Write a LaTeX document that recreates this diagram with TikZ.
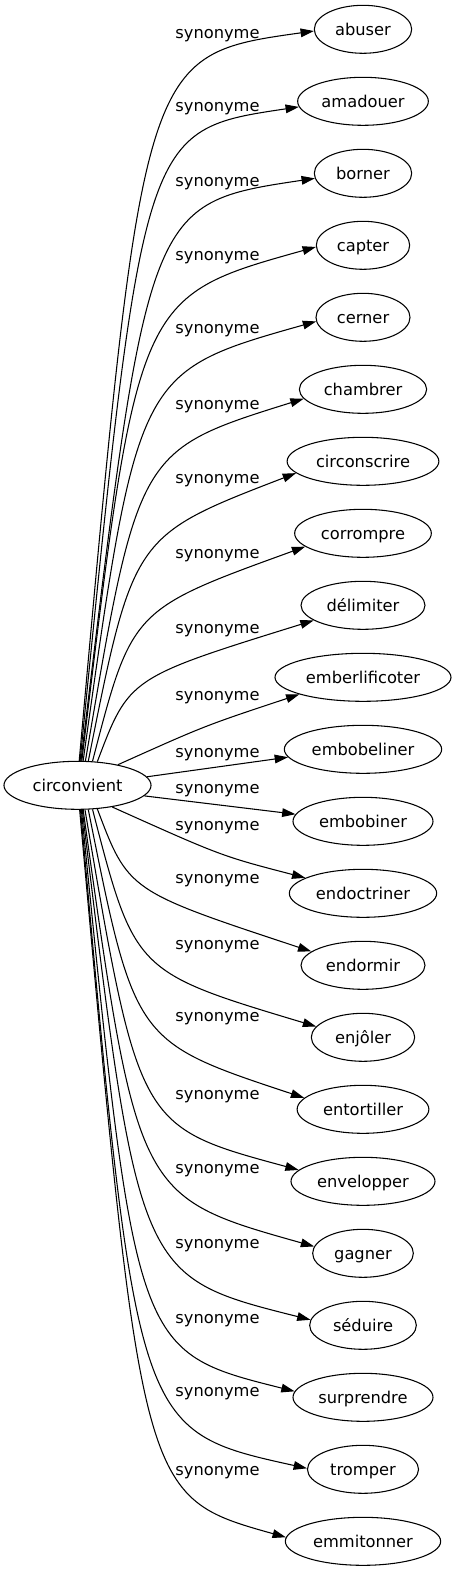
\documentclass[tikz,border=0pt]{standalone}
\usepackage{fontspec}
\setmainfont{DejaVu Sans}
\usetikzlibrary{arrows.meta,shapes.geometric}

\begin{document}
\begin{tikzpicture}[x=0.75pt,y=-0.75pt,
    word/.style={draw, ellipse, line width=0.8pt, minimum height=36pt, inner sep=0pt,
      font=\fontsize{12.2pt}{14pt}\selectfont, text height=11pt, text depth=2.4pt},
    lbl/.style={anchor=base, inner sep=0pt, font=\fontsize{12.2pt}{14pt}\selectfont},
    syn/.style={-{Triangle[length=10pt,width=6.5pt]}, line width=0.8pt}]
    \useasboundingbox (0,0) rectangle (456,1571);

    % Source word
    \node[word, minimum width=110.3pt] (circ) at (77.5,785.3) {circonvient};

    % Synonyms
    \node[word, minimum width=73pt] (abuser) at (363,29.3) {abuser};
    \node[word, minimum width=98pt] (amadouer) at (363,101.3) {amadouer};
    \node[word, minimum width=73pt] (borner) at (363,173.3) {borner};
    \node[word, minimum width=70pt] (capter) at (363,245.3) {capter};
    \node[word, minimum width=70.5pt] (cerner) at (363,317.3) {cerner};
    \node[word, minimum width=95.5pt] (chambrer) at (363,389.3) {chambrer};
    \node[word, minimum width=113.8pt] (circonscrire) at (363,461.3) {circonscrire};
    \node[word, minimum width=102.5pt] (corrompre) at (363,533.3) {corrompre};
    \node[word, minimum width=93pt] (delimiter) at (363,605.3) {délimiter};
    \node[word, minimum width=132pt] (emberlificoter) at (363,677.3) {emberlificoter};
    \node[word, minimum width=118pt] (embobeliner) at (363,749.3) {embobeliner};
    \node[word, minimum width=105pt] (embobiner) at (363,821.3) {embobiner};
    \node[word, minimum width=110.5pt] (endoctriner) at (363,893.3) {endoctriner};
    \node[word, minimum width=93pt] (endormir) at (363,965.3) {endormir};
    \node[word, minimum width=77.5pt] (enjoler) at (363,1037.3) {enjôler};
    \node[word, minimum width=98.8pt] (entortiller) at (363,1109.3) {entortiller};
    \node[word, minimum width=108pt] (envelopper) at (363,1181.3) {envelopper};
    \node[word, minimum width=75.5pt] (gagner) at (363,1253.3) {gagner};
    \node[word, minimum width=80pt] (seduire) at (363,1325.3) {séduire};
    \node[word, minimum width=105pt] (surprendre) at (363,1397.3) {surprendre};
    \node[word, minimum width=83.3pt] (tromper) at (363,1469.3) {tromper};
    \node[word, minimum width=116.5pt] (emmitonner) at (363,1541.3) {emmitonner};

    % Edges
    \draw[syn] (circ.86) .. controls (142.7,55) .. (abuser.182);
    \draw[syn] (circ.84) .. controls (142.9,130) .. (amadouer.185);
    \draw[syn] (circ.82) .. controls (147.9,203.3) .. (borner.186);
    \draw[syn] (circ.80) .. controls (137.5,296.7) .. (capter.182);
    \draw[syn] (circ.77) .. controls (137.6,371.8) .. (cerner.185);
    \draw[syn] (circ.72) .. controls (138.1,450.4) .. (chambrer.189);
    \draw[syn] (circ.66) .. controls (133.2,535.8) .. (circonscrire.190);
    \draw[syn] (circ.58) .. controls (131.8,609.4) .. (corrompre.193);
    \draw[syn] (circ.50) .. controls (129,677.7) .. (delimiter.197);
    \draw[syn] (circ.27) .. controls (205,725.6) .. (emberlificoter.195);
    \draw[syn] (circ.7) -- (embobeliner.186);
    \draw[syn] (circ.351) -- (embobiner.174);
    \draw[syn] (circ.328) .. controls (221.6,856.1) .. (endoctriner.165);
    \draw[syn] (circ.310) .. controls (128.3,891) .. (endormir.165);
    \draw[syn] (circ.302) .. controls (134.6,972) .. (enjoler.167);
    \draw[syn] (circ.294) .. controls (134.7,1041.8) .. (entortiller.169);
    \draw[syn] (circ.287) .. controls (138.9,1126.8) .. (envelopper.170);
    \draw[syn] (circ.283) .. controls (137.3,1196.8) .. (gagner.172);
    \draw[syn] (circ.281) .. controls (138.4,1276.6) .. (seduire.174);
    \draw[syn] (circ.279) .. controls (135.5,1351.5) .. (surprendre.175);
    \draw[syn] (circ.277) .. controls (136.4,1430.7) .. (tromper.179);
    \draw[syn] (circ.275) .. controls (141.5,1496.8) .. (emmitonner.177);

    % Edge labels
    \node[lbl] (l-abuser) at (217.5,38) {synonyme};
    \node[lbl] (l-amadouer) at (217.5,111) {synonyme};
    \node[lbl] (l-borner) at (217.5,186) {synonyme};
    \node[lbl] (l-capter) at (217.5,260) {synonyme};
    \node[lbl] (l-cerner) at (217.5,333) {synonyme};
    \node[lbl] (l-chambrer) at (217.5,409) {synonyme};
    \node[lbl] (l-circonscrire) at (217.5,483) {synonyme};
    \node[lbl] (l-corrompre) at (217.5,558) {synonyme};
    \node[lbl] (l-delimiter) at (217.5,633) {synonyme};
    \node[lbl] (l-emberlificoter) at (217.5,700) {synonyme};
    \node[lbl] (l-embobeliner) at (217.5,757) {synonyme};
    \node[lbl] (l-embobiner) at (217.5,793) {synonyme};
    \node[lbl] (l-endoctriner) at (217.5,830) {synonyme};
    \node[lbl] (l-endormir) at (217.5,883) {synonyme};
    \node[lbl] (l-enjoler) at (217.5,949) {synonyme};
    \node[lbl] (l-entortiller) at (217.5,1021) {synonyme};
    \node[lbl] (l-envelopper) at (217.5,1099) {synonyme};
    \node[lbl] (l-gagner) at (217.5,1173) {synonyme};
    \node[lbl] (l-seduire) at (217.5,1248) {synonyme};
    \node[lbl] (l-surprendre) at (217.5,1323) {synonyme};
    \node[lbl] (l-tromper) at (217.5,1396) {synonyme};
    \node[lbl] (l-emmitonner) at (217.5,1475) {synonyme};
\end{tikzpicture}
\end{document}
